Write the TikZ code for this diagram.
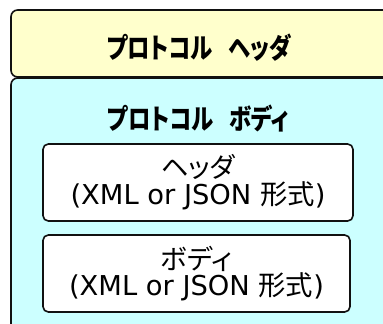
\documentclass[tikz,border=0pt]{standalone}
\usepackage{fontspec}
\setmainfont{DejaVu Sans}
\newfontfamily\jp{Noto Sans CJK JP}[RawFeature={+palt}]
\definecolor{hdrfill}{HTML}{FFFFCC}
\definecolor{bodyfill}{HTML}{CCFFFF}
\definecolor{linec}{HTML}{111111}
\tikzset{
  box/.style={draw=linec, line width=1.2pt, rounded corners=5pt, inner sep=0pt},
  ttl/.style={font=\jp\bfseries\fontsize{21}{23}\selectfont, inner sep=0pt},
  innerbox/.style={box, fill=white, rounded corners=4pt, align=center,
    font=\fontsize{20.5}{20}\selectfont, minimum height=57.75pt},
}
\begin{document}
\begin{tikzpicture}[x=0.75pt,y=-0.75pt]
\useasboundingbox (0,0) rectangle (383,324);
\clip (0,0) rectangle (383,324);
\node[box, fill=hdrfill, minimum width=288pt, minimum height=50.25pt] (hdr) at (203,43.5) {};
\node[box, fill=bodyfill, minimum width=288pt, minimum height=192.75pt] (body) at (203,206.5) {};
\node[ttl] (hdrtitle) at (199,47.5) {\scalebox{0.8}[1]{プロトコル\hspace{0.7em}ヘッダ}};
\node[ttl] (bodytitle) at (198,119) {\scalebox{0.8}[1]{プロトコル\hspace{0.7em}ボディ}};
\node[innerbox, minimum width=232.5pt] (ihdr) at (198,182.5) {{\jp ヘッダ}\\(XML or JSON {\jp 形式})};
\node[innerbox, minimum width=230.25pt] (ibody) at (196.5,273.5) {{\jp ボディ}\\(XML or JSON {\jp 形式})};
\end{tikzpicture}
\end{document}
